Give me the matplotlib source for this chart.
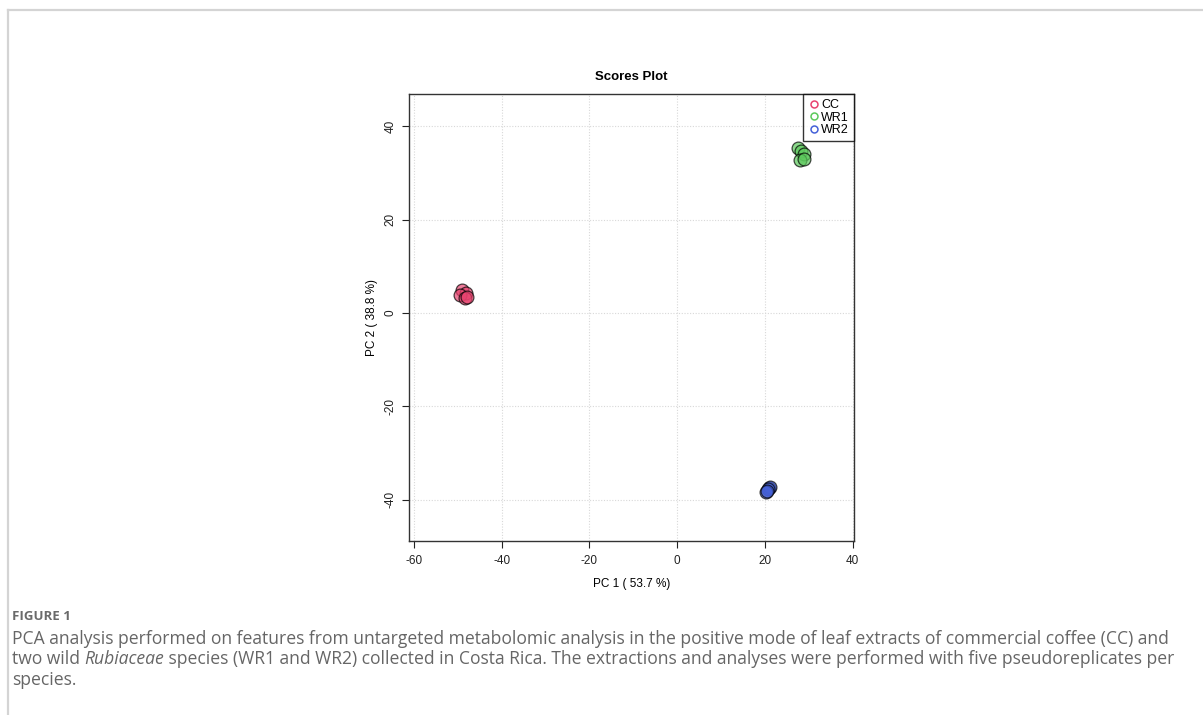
import matplotlib
matplotlib.use("Agg")
import matplotlib.pyplot as plt
from matplotlib.lines import Line2D

plt.rcParams["axes.unicode_minus"] = False
plt.rcParams["font.family"] = ["Liberation Sans", "DejaVu Sans"]

# PCA scores, five pseudoreplicates per group
groups = ["CC", "WR1", "WR2"]
cc_pc1 = [-49.0, -48.1, -49.4, -48.4, -47.9]
cc_pc2 = [5.0, 4.2, 3.8, 3.3, 3.5]
wr1_pc1 = [27.6, 28.3, 28.8, 28.1, 29.0]
wr1_pc2 = [35.3, 34.6, 34.0, 32.7, 33.0]
wr2_pc1 = [20.9, 21.1, 20.6, 20.2, 20.4]
wr2_pc2 = [-37.4, -37.2, -37.7, -38.4, -38.0]
pc1_var = 53.7
pc2_var = 38.8

fill_cols = ["#e8436f", "#5cc95c", "#4561d8"]

fig = plt.figure(figsize=(12.03, 7.15), dpi=100)

# page frame
fig.add_artist(Line2D([8 / 1203, 1.0], [1 - 10 / 715] * 2, color="#d4d4d4", lw=1.6))
fig.add_artist(Line2D([8 / 1203] * 2, [0, 1 - 10 / 715], color="#d4d4d4", lw=1.6))

ax = fig.add_axes([409 / 1203, 1 - 541 / 715, 445 / 1203, 447 / 715])
xs = [cc_pc1, wr1_pc1, wr2_pc1]
ys = [cc_pc2, wr1_pc2, wr2_pc2]
for x, y, c in zip(xs, ys, fill_cols):
    ax.scatter(x, y, s=85, facecolor=c, edgecolor="black", linewidth=0.9, alpha=0.7, zorder=3)

ax.set_xlim(-61.1, 40.3)
ax.set_ylim(-48.8, 46.9)
ax.set_xticks([-60, -40, -20, 0, 20, 40])
ax.set_yticks([-40, -20, 0, 20, 40])
ax.grid(True, color="#d8d8d8", linestyle=(0, (1, 1.5)), linewidth=0.8)
ax.set_axisbelow(True)
for sp in ax.spines.values():
    sp.set_color("#333333")
    sp.set_linewidth(1.0)
ax.tick_params(direction="out", length=5, width=0.8, labelsize=8.5, colors="#222222")
ax.tick_params(axis="x", pad=5)
ax.tick_params(axis="y", pad=4)
for lab in ax.get_yticklabels():
    lab.set_rotation(90)
    lab.set_va("center")

ax.set_xlabel("PC 1 ( %.1f %%)" % pc1_var, fontsize=8.5, labelpad=8)
ax.set_ylabel("PC 2 ( %.1f %%)" % pc2_var, fontsize=8.5, labelpad=5)
ax.set_title("Scores Plot", fontsize=9.5, fontweight="bold", pad=10)

handles = [Line2D([], [], marker="o", linestyle="none", markerfacecolor="none",
                  markeredgecolor=c, markersize=5, markeredgewidth=1.1) for c in fill_cols]
leg = ax.legend(handles, groups, loc="upper right", fontsize=9, frameon=True, fancybox=False,
                borderaxespad=0, handletextpad=0.1, handlelength=1.0, labelspacing=0.05,
                borderpad=0.4)
leg.get_frame().set_edgecolor("black")
leg.get_frame().set_linewidth(1.0)

# caption
cap_col = "#666666"
cap_font = ["Open Sans", "DejaVu Sans"]
cap_size = 12.65
fig.text(12 / 1203, 1 - 617 / 715, "FIGURE 1", fontsize=9.5, color="#6a6a6a", family=cap_font,
         va="center", fontweight="bold")
line1 = ("PCA analysis performed on features from untargeted metabolomic analysis in the positive "
         "mode of leaf extracts of commercial coffee (CC) and")
line2 = ["two wild ", "Rubiaceae", " species (WR1 and WR2) collected in Costa Rica. The extractions "
         "and analyses were performed with five pseudoreplicates per"]
line3 = "species."
fig.text(12 / 1203, 1 - 638.5 / 715, line1, fontsize=cap_size, color=cap_col, family=cap_font, va="center")
fig.text(12 / 1203, 1 - 680 / 715, line3, fontsize=cap_size, color=cap_col, family=cap_font, va="center")

renderer = fig.canvas.get_renderer()
x0 = 12
for i, part in enumerate(line2):
    t = fig.text(x0 / 1203, 1 - 659.5 / 715, part, fontsize=cap_size, color=cap_col, family=cap_font,
                 va="center", style="italic" if i == 1 else "normal")
    x0 += t.get_window_extent(renderer).width

fig.savefig("out.png", dpi=100)
